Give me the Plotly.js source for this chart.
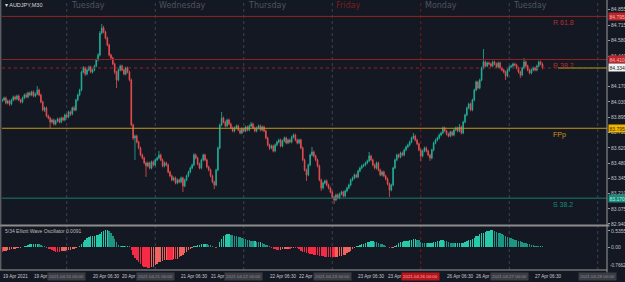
<!DOCTYPE html>
<html><head><meta charset="utf-8">
<script src="https://cdn.plot.ly/plotly-3.0.1.min.js"></script>
<style>html,body{margin:0;padding:0;background:#141823;overflow:hidden}#chart{width:625px;height:282px}</style>
</head><body><div id="chart"></div>
<script>
// ---- DATA (AUDJPY, M30) ----
const openP = [
84.039,84.048,84.066,84.021,84.039,84.012,84.048,84.075,84.057,84.084,84.048,84.030,
84.066,84.093,84.075,84.111,84.093,84.120,84.084,84.102,84.137,84.093,84.030,83.959,
83.977,83.905,83.887,83.851,83.869,83.833,83.860,83.878,83.851,83.887,83.869,83.914,
83.896,83.941,83.923,83.977,83.959,84.048,84.093,84.137,84.298,84.334,84.280,84.316,
84.343,84.298,84.316,84.352,84.406,84.450,84.647,84.692,84.656,84.602,84.540,84.450,
84.423,84.370,84.298,84.227,84.316,84.352,84.316,84.280,84.334,84.298,84.227,83.825,
83.708,83.726,83.672,83.619,83.556,83.529,83.485,83.458,83.485,83.440,83.494,83.467,
83.512,83.529,83.556,83.512,83.458,83.485,83.467,83.404,83.369,83.333,83.351,83.306,
83.333,83.315,83.351,83.279,83.333,83.369,83.404,83.440,83.467,83.556,83.529,83.476,
83.440,83.512,83.556,83.512,83.449,83.422,83.369,83.315,83.288,83.422,83.619,83.825,
83.887,83.851,83.816,83.869,83.833,83.798,83.771,83.798,83.816,83.780,83.753,83.789,
83.771,83.807,83.780,83.816,83.833,83.798,83.771,83.798,83.816,83.780,83.807,83.771,
83.708,83.646,83.619,83.637,83.592,83.646,83.672,83.690,83.637,83.681,83.708,83.664,
83.690,83.672,83.717,83.735,83.690,83.664,83.690,83.619,83.512,83.422,83.378,83.467,
83.556,83.583,83.547,83.512,83.458,83.333,83.261,83.306,83.324,83.288,83.261,83.225,
83.181,83.154,83.199,83.172,83.208,83.225,83.190,83.234,83.261,83.288,83.333,83.351,
83.378,83.360,83.413,83.440,83.458,83.467,83.485,83.503,83.547,83.512,83.467,83.440,
83.485,83.422,83.378,83.404,83.369,83.342,83.297,83.243,83.288,83.440,83.512,83.556,
83.538,83.574,83.556,83.601,83.628,83.646,83.672,83.708,83.726,83.690,83.655,83.601,
83.547,83.592,83.619,83.592,83.556,83.529,83.601,83.664,83.690,83.708,83.735,83.753,
83.798,83.771,83.744,83.726,83.762,83.735,83.780,83.798,83.771,83.807,83.753,83.851,
83.914,83.977,84.012,83.959,84.048,84.137,84.209,84.155,84.227,84.334,84.388,84.352,
84.379,84.370,84.352,84.388,84.370,84.343,84.379,84.334,84.316,84.298,84.263,84.316,
84.343,84.352,84.370,84.361,84.334,84.298,84.272,84.334,84.388,84.352,84.316,84.289,
84.316,84.334,84.316,84.352,84.388,84.370];
const highP = [
84.060,84.078,84.078,84.051,84.051,84.060,84.087,84.087,84.096,84.096,84.060,84.078,
84.105,84.111,84.123,84.123,84.132,84.132,84.114,84.173,84.149,84.105,84.042,83.989,
83.989,83.917,83.899,83.881,83.881,83.872,83.890,83.890,83.899,83.899,83.926,83.926,
83.953,83.953,83.989,83.995,84.060,84.105,84.149,84.310,84.352,84.346,84.328,84.355,
84.355,84.328,84.364,84.418,84.468,84.665,84.727,84.710,84.668,84.614,84.552,84.462,
84.435,84.382,84.310,84.328,84.364,84.364,84.328,84.346,84.346,84.310,84.239,83.837,
83.738,83.738,83.684,83.631,83.568,83.541,83.497,83.497,83.497,83.506,83.506,83.524,
83.541,83.592,83.568,83.524,83.497,83.497,83.479,83.416,83.381,83.363,83.363,83.345,
83.345,83.363,83.363,83.345,83.381,83.416,83.452,83.479,83.574,83.568,83.541,83.488,
83.524,83.568,83.568,83.524,83.461,83.434,83.381,83.327,83.434,83.631,83.837,83.941,
83.899,83.863,83.881,83.881,83.845,83.810,83.810,83.828,83.828,83.792,83.801,83.801,
83.819,83.819,83.828,83.851,83.845,83.810,83.810,83.828,83.828,83.819,83.819,83.783,
83.720,83.658,83.649,83.649,83.658,83.684,83.702,83.702,83.693,83.720,83.720,83.702,
83.702,83.729,83.747,83.747,83.702,83.702,83.702,83.631,83.524,83.434,83.479,83.568,
83.628,83.595,83.559,83.524,83.470,83.345,83.318,83.336,83.336,83.300,83.273,83.237,
83.193,83.211,83.211,83.220,83.237,83.237,83.246,83.273,83.300,83.345,83.363,83.390,
83.390,83.425,83.452,83.470,83.479,83.497,83.515,83.583,83.559,83.524,83.479,83.497,
83.497,83.434,83.416,83.416,83.381,83.354,83.309,83.300,83.452,83.524,83.568,83.568,
83.586,83.586,83.613,83.640,83.658,83.684,83.720,83.753,83.738,83.702,83.667,83.613,
83.604,83.631,83.631,83.604,83.568,83.613,83.676,83.702,83.720,83.747,83.765,83.810,
83.810,83.783,83.756,83.774,83.774,83.792,83.810,83.810,83.833,83.819,83.863,83.926,
83.989,84.024,84.024,84.060,84.149,84.221,84.221,84.239,84.346,84.504,84.400,84.391,
84.391,84.382,84.400,84.400,84.382,84.391,84.391,84.346,84.328,84.310,84.328,84.355,
84.364,84.382,84.382,84.373,84.346,84.310,84.346,84.423,84.400,84.364,84.328,84.328,
84.346,84.346,84.364,84.400,84.400,84.382];
const lowP = [
84.027,84.036,84.009,84.009,83.994,84.000,84.036,84.045,84.045,84.036,84.018,84.018,
84.054,84.063,84.063,84.081,84.081,84.072,84.072,84.090,84.081,84.018,83.947,83.941,
83.893,83.875,83.798,83.839,83.821,83.821,83.848,83.839,83.839,83.857,83.857,83.884,
83.884,83.905,83.911,83.947,83.947,84.036,84.081,84.125,84.286,84.262,84.268,84.304,
84.286,84.286,84.304,84.340,84.394,84.438,84.635,84.644,84.590,84.528,84.438,84.405,
84.358,84.280,84.155,84.215,84.304,84.304,84.268,84.268,84.286,84.215,83.813,83.690,
83.512,83.660,83.607,83.544,83.517,83.473,83.360,83.446,83.428,83.428,83.455,83.455,
83.500,83.517,83.500,83.446,83.446,83.455,83.392,83.357,83.321,83.321,83.294,83.294,
83.303,83.303,83.225,83.267,83.321,83.357,83.392,83.428,83.455,83.517,83.464,83.428,
83.428,83.500,83.500,83.437,83.410,83.357,83.303,83.252,83.276,83.410,83.607,83.813,
83.839,83.804,83.804,83.821,83.786,83.759,83.759,83.786,83.768,83.741,83.741,83.759,
83.759,83.768,83.768,83.804,83.786,83.759,83.759,83.786,83.768,83.768,83.759,83.696,
83.634,83.601,83.607,83.580,83.580,83.634,83.660,83.625,83.625,83.669,83.652,83.652,
83.660,83.660,83.705,83.678,83.652,83.652,83.607,83.500,83.410,83.324,83.366,83.455,
83.544,83.535,83.500,83.446,83.321,83.234,83.249,83.294,83.276,83.249,83.213,83.169,
83.118,83.142,83.160,83.160,83.196,83.178,83.178,83.222,83.249,83.276,83.321,83.339,
83.348,83.348,83.401,83.428,83.446,83.455,83.473,83.491,83.500,83.455,83.428,83.428,
83.410,83.366,83.366,83.357,83.330,83.285,83.181,83.231,83.276,83.428,83.500,83.526,
83.526,83.544,83.544,83.589,83.616,83.634,83.660,83.696,83.678,83.643,83.589,83.503,
83.535,83.580,83.580,83.544,83.503,83.517,83.589,83.652,83.678,83.696,83.723,83.741,
83.759,83.732,83.714,83.714,83.723,83.723,83.768,83.759,83.759,83.741,83.741,83.839,
83.902,83.965,83.947,83.947,84.036,84.125,84.143,84.143,84.215,84.322,84.340,84.340,
84.358,84.340,84.340,84.358,84.331,84.331,84.322,84.304,84.286,84.227,84.251,84.304,
84.331,84.340,84.349,84.322,84.286,84.245,84.260,84.322,84.340,84.304,84.277,84.277,
84.304,84.304,84.304,84.340,84.358,84.322];
const closeP = [
84.048,84.066,84.021,84.039,84.012,84.048,84.075,84.057,84.084,84.048,84.030,84.066,
84.093,84.075,84.111,84.093,84.120,84.084,84.102,84.137,84.093,84.030,83.959,83.977,
83.905,83.887,83.851,83.869,83.833,83.860,83.878,83.851,83.887,83.869,83.914,83.896,
83.941,83.923,83.977,83.959,84.048,84.093,84.137,84.298,84.334,84.280,84.316,84.343,
84.298,84.316,84.352,84.406,84.450,84.647,84.692,84.656,84.602,84.540,84.450,84.423,
84.370,84.298,84.227,84.316,84.352,84.316,84.280,84.334,84.298,84.227,83.825,83.708,
83.726,83.672,83.619,83.556,83.529,83.485,83.458,83.485,83.440,83.494,83.467,83.512,
83.529,83.556,83.512,83.458,83.485,83.467,83.404,83.369,83.333,83.351,83.306,83.333,
83.315,83.351,83.279,83.333,83.369,83.404,83.440,83.467,83.556,83.529,83.476,83.440,
83.512,83.556,83.512,83.449,83.422,83.369,83.315,83.288,83.422,83.619,83.825,83.887,
83.851,83.816,83.869,83.833,83.798,83.771,83.798,83.816,83.780,83.753,83.789,83.771,
83.807,83.780,83.816,83.833,83.798,83.771,83.798,83.816,83.780,83.807,83.771,83.708,
83.646,83.619,83.637,83.592,83.646,83.672,83.690,83.637,83.681,83.708,83.664,83.690,
83.672,83.717,83.735,83.690,83.664,83.690,83.619,83.512,83.422,83.378,83.467,83.556,
83.583,83.547,83.512,83.458,83.333,83.261,83.306,83.324,83.288,83.261,83.225,83.181,
83.154,83.199,83.172,83.208,83.225,83.190,83.234,83.261,83.288,83.333,83.351,83.378,
83.360,83.413,83.440,83.458,83.467,83.485,83.503,83.547,83.512,83.467,83.440,83.485,
83.422,83.378,83.404,83.369,83.342,83.297,83.243,83.288,83.440,83.512,83.556,83.538,
83.574,83.556,83.601,83.628,83.646,83.672,83.708,83.726,83.690,83.655,83.601,83.547,
83.592,83.619,83.592,83.556,83.529,83.601,83.664,83.690,83.708,83.735,83.753,83.798,
83.771,83.744,83.726,83.762,83.735,83.780,83.798,83.771,83.807,83.753,83.851,83.914,
83.977,84.012,83.959,84.048,84.137,84.209,84.155,84.227,84.334,84.388,84.352,84.379,
84.370,84.352,84.388,84.370,84.343,84.379,84.334,84.316,84.298,84.263,84.316,84.343,
84.352,84.370,84.361,84.334,84.298,84.272,84.334,84.388,84.352,84.316,84.289,84.316,
84.334,84.316,84.352,84.388,84.370,84.334];
// 5/34 Elliott Wave Oscillator
const ewo = [
-0.15,-0.14,-0.12,-0.11,-0.09,-0.08,-0.06,-0.05,-0.04,-0.03,-0.02,
0.01,0.03,0.05,0.07,0.09,0.10,0.11,0.11,0.11,0.10,0.08,0.05,0.02,
-0.02,-0.05,-0.08,-0.11,-0.13,-0.15,-0.15,-0.15,-0.14,-0.13,-0.12,-0.11,-0.10,-0.09,-0.07,-0.05,-0.03,-0.01,
0.03,0.10,0.16,0.23,0.29,0.33,0.36,0.36,0.37,0.39,0.41,0.44,0.49,0.52,0.55,0.56,0.52,0.46,0.36,0.26,0.16,0.08,0.05,0.05,0.05,0.03,0.03,0.02,
-0.10,-0.26,-0.36,-0.42,-0.49,-0.55,-0.62,-0.65,-0.68,-0.70,-0.70,-0.68,-0.65,-0.59,-0.55,-0.50,-0.49,-0.46,-0.44,-0.42,-0.42,-0.42,-0.42,-0.41,-0.41,-0.39,-0.33,-0.29,-0.26,-0.21,-0.16,-0.11,-0.07,-0.02,
0.02,0.04,0.06,0.08,0.09,0.10,0.10,0.09,0.08,0.06,0.03,0.01,-0.02,
-0.01,
0.16,0.26,0.36,0.41,0.42,0.42,0.41,0.39,0.37,0.36,0.34,0.33,0.31,0.28,0.26,0.24,0.23,0.21,0.20,0.20,0.18,0.16,0.16,0.15,0.11,0.08,0.06,0.03,
-0.03,-0.06,-0.08,-0.10,-0.10,-0.09,-0.08,-0.07,-0.06,-0.05,-0.05,-0.04,-0.03,-0.03,-0.04,-0.06,
-0.12,-0.15,-0.17,-0.19,-0.21,-0.23,-0.24,-0.25,-0.26,-0.28,-0.29,-0.30,-0.31,-0.32,-0.33,-0.33,-0.34,-0.34,-0.34,-0.33,-0.32,-0.31,-0.29,-0.27,-0.25,-0.21,-0.17,-0.12,-0.07,-0.03,
0.02,0.05,0.07,0.09,0.11,0.14,0.16,0.18,0.19,0.19,0.18,0.16,0.14,
0.11,0.09,0.07,0.05,
0.01,-0.03,-0.04,-0.02,
0.04,0.07,
0.12,0.16,0.18,0.19,0.20,0.21,0.23,
0.25,0.26,0.26,0.25,0.22,
0.18,0.15,0.13,0.12,0.12,0.12,0.14,0.16,
0.18,0.20,0.21,0.22,0.22,0.21,0.19,0.17,0.15,
0.14,0.13,0.13,0.13,0.13,0.13,0.14,0.16,0.19,0.22,0.25,
0.28,0.31,0.35,0.38,0.42,0.45,0.48,0.51,0.53,0.54,0.55,0.55,
0.53,0.51,0.48,0.45,0.42,0.39,0.36,
0.33,0.31,0.29,0.27,0.25,0.23,0.21,0.19,
0.16,0.14,0.12,0.10,0.09,0.08,0.06,0.05,
0.04,0.03,0.03,0.02];

// day separators (bar index of 00:00), names, date boxes
const dayIdx = [35,83,131,179,227,275,323];
const dayNames = ['Tuesday','Wednesday','Thursday','Friday','Monday','Tuesday'];
const dayBoxText = ['2021.04.20 00:00','2021.04.21 00:00','2021.04.22 00:00','2021.04.23 00:00','2021.04.26 00:00','2021.04.27 00:00','2021.04.28 00:00'];
// time axis labels (the part not hidden by the date boxes)
const timeIdx = [0,16,48,64,96,112,144,160,192,208,240,256,288];
const timeText = ['19 Apr 2021','19 Apr 1','20 Apr 06:30','20 Apr 1','21 Apr 06:30','21 Apr 1','22 Apr 06:30','22 Apr 1','23 Apr 06:30','23 Apr','26 Apr 06:30','26 Apr 1','27 Apr 06:30'];
// price scale (84.305 is hidden behind the price box in the reference)
const priceTicks = [84.855,84.715,84.580,84.440,84.170,84.030,83.895,83.755,83.620,83.480,83.345,83.210,83.075,82.940];
const oscTicks = [0.5355,0];
const oscTickText = ['0.5355','0.00'];
const oscMin = -0.7662;
// pivot levels
const levelNames = ['R 61.8','R 38.2','FPp','S 38.2'];
const levelPrices = [84.795,84.410,83.795,83.170];

// ---- STYLE ----
const BG='#141823', BULL='#22b39b', BEAR='#ef4f50';
const levelColors=['#8e2424','#8e2424','#c8961c','#1b7d70'];
const levelTextColors=['#b03030','#b03030','#c8961c','#1b8a7a'];
const levelBox=[{bg:'#b8262a',fc:'#ffb0b0'},{bg:'#b8262a',fc:'#ffb0b0'},{bg:'#f0b400',fc:'#3a2a00'},{bg:'#1b8a7a',fc:'#b8f0e6'}];
const H=282, M={l:2,r:18,t:2,b:12};
const plotH=H-M.t-M.b;
const py = pix => (H-M.b-pix)/plotH;
const FONT='Liberation Sans, Arial, sans-serif';

const idx = closeP.map((_,i)=>i);
const lastPrice = closeP[closeP.length-1];

const oscColors = ewo.map((v,i)=>{
  const prev = i>0?ewo[i-1]:v;
  if(v>=0) return v>=prev?'#27c9ab':'#1c9585';
  return v<=prev?'#f52a44':'#f0645e';
});

const traces = [
 {type:'candlestick',x:idx,open:openP,high:highP,low:lowP,close:closeP,xaxis:'x',yaxis:'y',
  increasing:{line:{color:BULL,width:0.8},fillcolor:BULL},
  decreasing:{line:{color:BEAR,width:0.8},fillcolor:BEAR},
  whiskerwidth:0,hoverinfo:'skip',showlegend:false},
 {type:'bar',x:idx,y:ewo,xaxis:'x',yaxis:'y2',marker:{color:oscColors,line:{width:0}},width:0.75,hoverinfo:'skip',showlegend:false}
];

const shapes=[];
dayIdx.forEach((d,k)=>{
  shapes.push({type:'line',xref:'x',yref:'paper',x0:d,x1:d,y0:0,y1:1,
    line:{color:k===4?'#7a1c1c':'#3c4250',width:1,dash:'dot'},layer:'below'});
});
levelPrices.forEach((p,k)=>{
  shapes.push({type:'line',xref:'paper',yref:'y',x0:0,x1:1,y0:p,y1:p,line:{color:levelColors[k],width:1}});
});
shapes.push({type:'line',xref:'paper',yref:'y',x0:0,x1:1,y0:lastPrice,y1:lastPrice,line:{color:'#a01e1e',width:1,dash:'dot'}});
shapes.push({type:'line',xref:'paper',yref:'y',x0:0.919,x1:1,y0:lastPrice,y1:lastPrice,line:{color:'#76761e',width:1.5}});
// panel separator & borders
shapes.push({type:'line',xref:'paper',yref:'paper',x0:-0.004,x1:1.004,y0:py(225.5),y1:py(225.5),line:{color:'#8c8c8c',width:2}});
shapes.push({type:'line',xref:'paper',yref:'paper',x0:1,x1:1,y0:-0.01,y1:1.01,line:{color:'#9a9a9a',width:1}});
shapes.push({type:'line',xref:'paper',yref:'paper',x0:-0.002,x1:-0.002,y0:0,y1:1.01,line:{color:'#7a7a7a',width:1}});
shapes.push({type:'line',xref:'paper',yref:'paper',x0:-0.004,x1:1,y0:0,y1:0,line:{color:'#9a9a9a',width:1}});

const ann=[];
ann.push({xref:'paper',yref:'paper',x:0.002,y:py(5),xanchor:'left',yanchor:'middle',text:'▾ AUDJPY,M30',showarrow:false,font:{family:FONT,size:5.5,color:'#d8d8d8'}});
dayNames.forEach((n,k)=>{
  ann.push({xref:'x',yref:'paper',x:dayIdx[k],y:py(5.5),xanchor:'left',yanchor:'middle',xshift:2,text:n,showarrow:false,
    font:{family:'DejaVu Sans, sans-serif',size:8,color:k===3?'#7a1d1d':'#4f5461'}});
});
levelNames.forEach((n,k)=>{
  ann.push({xref:'paper',yref:'y',x:(551-2)/605,y:levelPrices[k],xanchor:'left',yanchor:'top',yshift:-1,text:n,showarrow:false,
    font:{family:FONT,size:7,color:levelTextColors[k]}});
  ann.push({xref:'paper',yref:'y',x:1,y:levelPrices[k],xanchor:'left',yanchor:'middle',xshift:1,text:levelPrices[k].toFixed(3),showarrow:false,
    bgcolor:levelBox[k].bg,borderpad:0.5,font:{family:FONT,size:5,color:levelBox[k].fc}});
});
ann.push({xref:'paper',yref:'y',x:1,y:lastPrice,xanchor:'left',yanchor:'middle',xshift:1,text:lastPrice.toFixed(3),showarrow:false,
  bgcolor:'#f2f2f2',borderpad:0.5,font:{family:FONT,size:5,color:'#202020'}});
ann.push({xref:'paper',yref:'y2',x:1,y:oscMin,xanchor:'left',yanchor:'bottom',xshift:1,text:oscMin.toFixed(4),showarrow:false,
  font:{family:FONT,size:4.6,color:'#c4c4c4'}});
ann.push({xref:'paper',yref:'paper',x:0.002,y:py(231),xanchor:'left',yanchor:'middle',text:'5/34 Elliott Wave Oscillator 0.0091',showarrow:false,
  font:{family:FONT,size:5,color:'#bcbcbc'}});
timeIdx.forEach((t,k)=>{
  ann.push({xref:'x',yref:'paper',x:t,y:py(276),xanchor:'left',yanchor:'middle',xshift:k===0?-1:0,text:timeText[k],showarrow:false,
    font:{family:FONT,size:4.6,color:'#c9c9c9'}});
});
dayIdx.forEach((d,k)=>{
  const red = k===4;
  ann.push({xref:'x',yref:'paper',x:d,y:py(276),xanchor:'center',yanchor:'middle',text:dayBoxText[k],showarrow:false,
    bgcolor:red?'#b3161b':'#3a3d45',borderpad:1,font:{family:FONT,size:4.4,color:red?'#ffb0b0':'#8f8f8f'}});
});

const layout={
  width:625,height:282,margin:M,paper_bgcolor:BG,plot_bgcolor:BG,showlegend:false,
  boxgap:0.45,bargap:0,
  xaxis:{range:[-0.11,328],anchor:'y2',showgrid:false,zeroline:false,showticklabels:false,ticks:'',showline:false,rangeslider:{visible:false},fixedrange:true},
  yaxis:{domain:[py(224),1],range:[82.939,84.924],side:'right',tickvals:priceTicks,ticktext:priceTicks.map(v=>v.toFixed(3)),
    tickfont:{family:FONT,size:5,color:'#c4c4c4'},ticks:'outside',ticklen:2,tickcolor:'#9a9a9a',showgrid:false,zeroline:false,showline:false,fixedrange:true},
  yaxis2:{domain:[0,py(228)],range:[oscMin,0.633],side:'right',tickvals:oscTicks,ticktext:oscTickText,
    tickfont:{family:FONT,size:5,color:'#c4c4c4'},ticks:'outside',ticklen:2,tickcolor:'#9a9a9a',showgrid:false,zeroline:false,showline:false,fixedrange:true},
  shapes:shapes,annotations:ann
};
Plotly.newPlot('chart',traces,layout,{staticPlot:true,displayModeBar:false});
</script></body></html>
